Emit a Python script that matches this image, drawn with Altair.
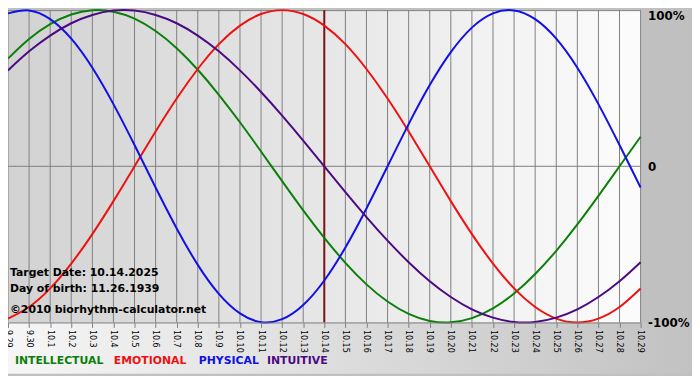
import altair as alt
import pandas as pd

# ---- data ----
days = ["9.29", "9.30", "10.1", "10.2", "10.3", "10.4", "10.5", "10.6", "10.7", "10.8",
        "10.9", "10.10", "10.11", "10.12", "10.13", "10.14", "10.15", "10.16", "10.17",
        "10.18", "10.19", "10.20", "10.21", "10.22", "10.23", "10.24", "10.25", "10.26",
        "10.27", "10.28", "10.29"]

intellectual = [0.690, 0.815, 0.910, 0.972, 0.999, 0.990, 0.945, 0.866, 0.756, 0.618, 0.458,
                0.282, 0.095, -0.095, -0.282, -0.458, -0.618, -0.756, -0.866, -0.945, -0.990,
                -0.999, -0.972, -0.910, -0.815, -0.690, -0.541, -0.372, -0.189, 0.000, 0.189]
emotional = [-0.975, -0.901, -0.782, -0.623, -0.434, -0.223, 0.000, 0.223, 0.434, 0.623, 0.782,
             0.901, 0.975, 1.000, 0.975, 0.901, 0.782, 0.623, 0.434, 0.223, 0.000, -0.223,
             -0.434, -0.623, -0.782, -0.901, -0.975, -1.000, -0.975, -0.901, -0.782]
physical = [0.979, 0.998, 0.942, 0.817, 0.631, 0.398, 0.136, -0.136, -0.398, -0.631, -0.817,
            -0.942, -0.998, -0.979, -0.888, -0.731, -0.520, -0.270, 0.000, 0.270, 0.520, 0.731,
            0.888, 0.979, 0.998, 0.942, 0.817, 0.631, 0.398, 0.136, -0.136]
intuitive = [0.614, 0.736, 0.837, 0.916, 0.969, 0.997, 0.997, 0.969, 0.916, 0.837, 0.736, 0.614,
             0.476, 0.325, 0.165, 0.000, -0.165, -0.325, -0.476, -0.614, -0.736, -0.837, -0.916,
             -0.969, -0.997, -0.997, -0.969, -0.916, -0.837, -0.736, -0.614]

series_names = ["INTELLECTUAL", "EMOTIONAL", "PHYSICAL", "INTUITIVE"]
series_colors = ["#0a800a", "#ee1111", "#1010e6", "#4b0a82"]
target_day = "10.14"
info_lines = ["Target Date: 10.14.2025", "Day of birth: 11.26.1939", "\u00a92010 biorhythm-calculator.net"]
ytick_vals = [1, 0, -1]
ytick_labels = ["100%", "0", "-100%"]

# ---- layout ----
W, H = 640, 316
RIGHT, BOTTOM = 52, 52
FONT = "DejaVu Sans"
GRID = "#808080"

idx = list(range(len(days)))
rows = []
for name, vals in zip(series_names, [intellectual, emotional, physical, intuitive]):
    for i, v in zip(idx, vals):
        rows.append({"i": i, "value": v, "series": name})
df = pd.DataFrame(rows)
days_df = pd.DataFrame({"i": idx, "day": days})
one = pd.DataFrame({"a": [0]})

x_label_expr = "[" + ",".join(f"'{d}'" for d in days) + "][round(datum.value)]"
y_label_expr = " : ".join(
    f"datum.value == {v} ? '{l}'" for v, l in zip(ytick_vals[:-1], ytick_labels[:-1])
) + f" : '{ytick_labels[-1]}'"

x_scale = alt.Scale(domain=[idx[0], idx[-1]], nice=False, zero=False)
y_scale = alt.Scale(domain=[-1, 1], nice=False, zero=False)

x_axis = alt.Axis(title=None, values=idx, labelExpr=x_label_expr, labelAngle=90,
                  labelFont="DejaVu Sans Condensed", labelFontSize=9, labelColor="black",
                  tickColor=GRID, tickSize=5, domainColor=GRID, labelPadding=2, grid=False,
                  labelAlign="left", labelBaseline="middle", labelOverlap=False,
                  labelFlush=False, labelBound=False, zindex=1)
y_axis = alt.Axis(orient="right", values=ytick_vals, labelExpr=y_label_expr,
                  title=None, domain=False, ticks=False, grid=False,
                  labelFont=FONT, labelFontSize=12, labelFontWeight="bold",
                  labelColor="black", labelPadding=7, labelAlign="left", zindex=1,
                  labelBaseline={"condition": {"test": "datum.value == 1", "value": "top"},
                                 "value": "middle"})

x_enc = alt.X("i:Q", scale=x_scale, axis=x_axis)

plot_bg = alt.Chart(one).mark_rect(
    fill=alt.Gradient(gradient="linear", x1=0, x2=1, y1=0, y2=0,
                      stops=[alt.GradientStop(color="#d2d2d2", offset=0),
                             alt.GradientStop(color="#fcfcfc", offset=1)])
).encode(x=alt.value(0), x2=alt.value(W), y=alt.value(0), y2=alt.value(H))

bottom_bg = alt.Chart(one).mark_rect(
    fill=alt.Gradient(gradient="linear", x1=0, x2=1, y1=0, y2=0,
                      stops=[alt.GradientStop(color="#f6f6f6", offset=0),
                             alt.GradientStop(color="#c2c2c2", offset=1)])
).encode(x=alt.value(0), x2=alt.value(W + RIGHT), y=alt.value(H), y2=alt.value(H + BOTTOM))

vgrid = alt.Chart(days_df).mark_rule(color=GRID, strokeWidth=1).encode(x=x_enc)

top_border = alt.Chart(one).mark_rule(color=GRID, strokeWidth=1).encode(
    x=alt.value(0), x2=alt.value(W), y=alt.value(0.5))

zero_line = alt.Chart(one).mark_rule(color=GRID, strokeWidth=1).encode(
    y=alt.datum(0, scale=y_scale, axis=y_axis))

marker = alt.Chart(days_df).transform_filter(
    alt.datum.day == target_day
).mark_rule(color="#7a1515", strokeWidth=2).encode(x=x_enc)

lines = alt.Chart(df).mark_line(strokeWidth=2, interpolate="natural").encode(
    x=x_enc,
    y=alt.Y("value:Q", scale=y_scale, axis=y_axis),
    color=alt.Color("series:N", scale=alt.Scale(domain=series_names, range=series_colors),
                    legend=None),
    detail="series:N",
)

info_layers = []
for txt, yy in zip(info_lines, [H - 50, H - 34, H - 13]):
    info_layers.append(
        alt.Chart(one).mark_text(text=txt, font=FONT, fontSize=11, fontWeight="bold",
                                 color="black", align="left", baseline="middle").encode(
            x=alt.value(2), y=alt.value(yy)))

legend_x = [7, 107, 193, 262]
legend_layers = []
for name, col, lx in zip(series_names, series_colors, legend_x):
    legend_layers.append(
        alt.Chart(one).mark_text(text=name, font=FONT, fontSize=11, fontWeight="bold",
                                 color=col, align="left", baseline="middle").encode(
            x=alt.value(lx), y=alt.value(H + 39)))

chart = alt.layer(
    bottom_bg, plot_bg, vgrid, top_border, zero_line, marker, lines,
    *info_layers, *legend_layers
).properties(
    width=W, height=H,
    autosize=alt.AutoSizeParams(type="none"),
    padding={"left": 0, "top": 0, "right": RIGHT, "bottom": BOTTOM},
    background="#c0c0c0",
).configure_view(stroke=None)

chart.save("out.html", embed_options={"renderer": "svg", "actions": False})
